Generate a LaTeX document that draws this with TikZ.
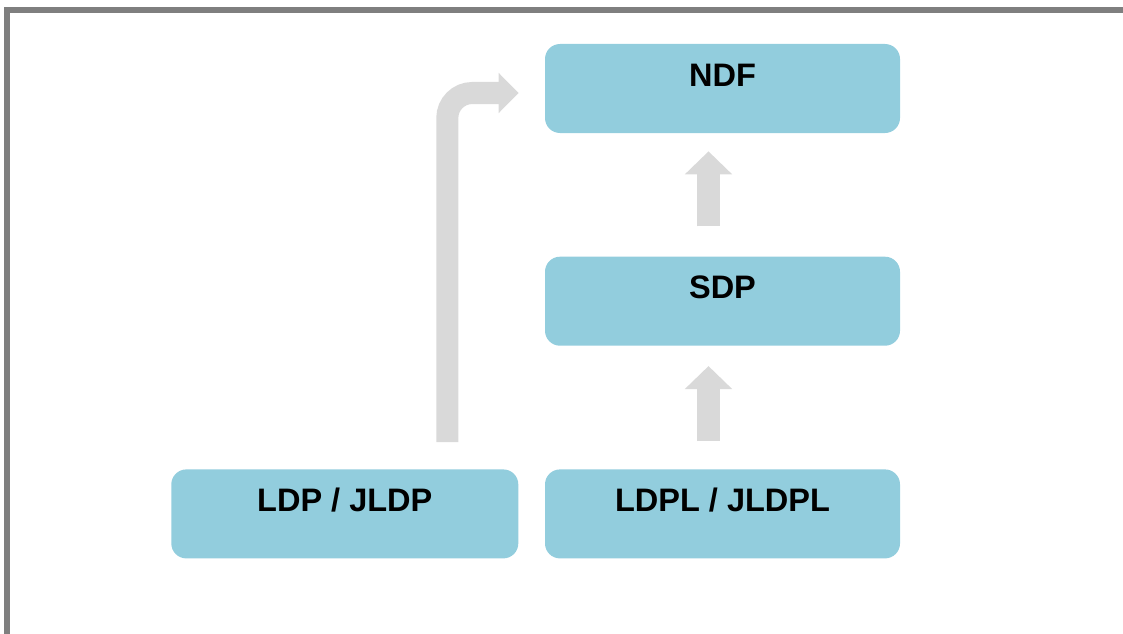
\documentclass[tikz,border=0pt]{standalone}
\usepackage{fontspec}
\setmainfont{Liberation Sans}
\usetikzlibrary{positioning,arrows.meta}
\definecolor{boxblue}{HTML}{92CDDD}
\definecolor{arrowgray}{HTML}{D9D9D9}
\definecolor{framegray}{HTML}{7F7F7F}
\tikzset{
  level/.style={fill=boxblue, rounded corners=0.3cm, minimum width=7.1cm, minimum height=1.78cm,
    inner sep=0pt, text height=0.47cm, text depth=0.57cm, font=\fontsize{18.5}{20}\selectfont\bfseries},
  fatarrow/.style={draw=arrowgray, line width=0.46cm, -{Triangle[width=0.92cm,length=0.46cm]}}
}
\begin{document}
\begin{tikzpicture}
\useasboundingbox (0,0) rectangle (22.46,12.66);
\clip (0,0) rectangle (22.46,12.66);
% frame
\draw[framegray, line width=0.12cm] (0.14,-1) rectangle (23.5,12.45);
% levels
\node[level] (ndf) at (14.45,10.89) {NDF};
\node[level, below=2.46cm of ndf] (sdp) {SDP};
\node[level, below=2.46cm of sdp] (ldpl) {LDPL / JLDPL};
\node[level, left=0.52cm of ldpl, minimum width=6.94cm] (ldp) {LDP / JLDP};
% arrows
\draw[fatarrow, shorten <=0.56cm, shorten >=0.4cm] ([xshift=-0.28cm]ldpl.north) -- ([xshift=-0.28cm]sdp.south);
\draw[fatarrow, shorten <=0.6cm, shorten >=0.36cm] ([xshift=-0.28cm]sdp.north) -- ([xshift=-0.28cm]ndf.south);
\draw[fatarrow, line width=0.44cm, rounded corners=0.5cm, shorten <=0.54cm, shorten >=0.52cm,
  -{Triangle[width=0.78cm,length=0.4cm]}] ([xshift=2.05cm]ldp.north) |- ([yshift=-0.09cm]ndf.west);
\end{tikzpicture}
\end{document}
